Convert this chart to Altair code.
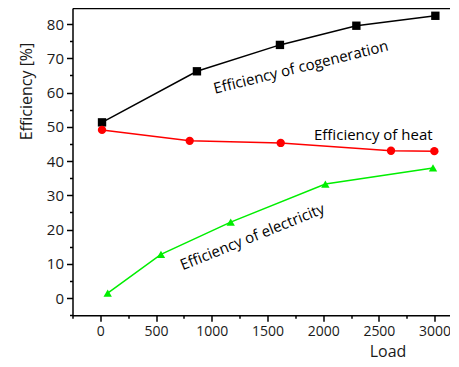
import altair as alt
import pandas as pd

# ---- data ----
series_names = ["Efficiency of cogeneration", "Efficiency of heat", "Efficiency of electricity"]
load_cogen = [15, 867, 1612, 2298, 3007]
eff_cogen = [51.3, 66.2, 73.9, 79.5, 82.4]
load_heat = [15, 802, 1619, 2609, 2998]
eff_heat = [49.1, 45.9, 45.3, 43.0, 42.9]
load_elec = [66, 544, 1170, 2020, 2986]
eff_elec = [1.5, 12.8, 22.2, 33.3, 38.0]

series_colors = ["#000000", "#ff0000", "#00ee00"]
series_shapes = ["square", "circle", "triangle-up"]

# annotation labels (position in data units, rotation angle)
label_text = series_names
label_load = [1800, 2450, 1365]
label_eff = [67.4, 47.6, 17.9]
label_angle = [346, 0, 338]

x_major = [0, 500, 1000, 1500, 2000, 2500, 3000]
x_minor = [-250, 250, 750, 1250, 1750, 2250, 2750]
y_major = [0, 10, 20, 30, 40, 50, 60, 70, 80]
y_minor = [-5, 5, 15, 25, 35, 45, 55, 65, 75]

rows = []
for name, xs, ys in [(series_names[0], load_cogen, eff_cogen),
                     (series_names[1], load_heat, eff_heat),
                     (series_names[2], load_elec, eff_elec)]:
    for a, b in zip(xs, ys):
        rows.append({"series": name, "load": a, "eff": b})
df = pd.DataFrame(rows)
lab = pd.DataFrame({"text": label_text, "load": label_load, "eff": label_eff, "angle": label_angle})

FONT = "Open Sans"
xscale = alt.Scale(domain=[-250, 3134], nice=False, zero=False)
yscale = alt.Scale(domain=[-5, 84.67], nice=False, zero=False)
cscale = alt.Scale(domain=series_names, range=series_colors)
sscale = alt.Scale(domain=series_names, range=series_shapes)

xaxis = alt.Axis(
    values=x_major, format="d", grid=False, orient="bottom", tickSize=6, labelFontSize=14,
    title="Load", titleX=315, titleY=41, titleBaseline="alphabetic", titleAlign="center",
)
yaxis = alt.Axis(
    values=y_major, grid=False, orient="left", tickSize=6,
    title="Efficiency [%]", titleX=-41, titleY=83, titleBaseline="alphabetic",
    titleAlign="center", titleAngle=270,
)
xminor = alt.Axis(values=x_minor, grid=False, orient="bottom", tickSize=3,
                  labels=False, domain=False, title=None)
yminor = alt.Axis(values=y_minor, grid=False, orient="left", tickSize=3,
                  labels=False, domain=False, title=None)
xtop = alt.Axis(orient="top", ticks=False, labels=False, title=None, grid=False, domain=True)

base = alt.Chart(df)
lines = base.mark_line(strokeWidth=1.5).encode(
    x=alt.X("load:Q", scale=xscale, axis=xaxis),
    y=alt.Y("eff:Q", scale=yscale, axis=yaxis),
    color=alt.Color("series:N", scale=cscale, legend=None),
    detail="series:N",
)
points = base.mark_point(filled=True, opacity=1, size=70).encode(
    x=alt.X("load:Q", scale=xscale, axis=None),
    y=alt.Y("eff:Q", scale=yscale, axis=None),
    color=alt.Color("series:N", scale=cscale, legend=None),
    shape=alt.Shape("series:N", scale=sscale, legend=None),
)
minor = base.mark_point(opacity=0).encode(
    x=alt.X("load:Q", scale=xscale, axis=xminor),
    y=alt.Y("eff:Q", scale=yscale, axis=yminor),
)
topframe = base.mark_point(opacity=0).encode(
    x=alt.X("load:Q", scale=xscale, axis=xtop),
    y=alt.Y("eff:Q", scale=yscale, axis=None),
)
texts = alt.Chart(lab).mark_text(font=FONT, fontSize=15, color="#000000", align="center", baseline="middle").encode(
    x=alt.X("load:Q", scale=xscale, axis=None),
    y=alt.Y("eff:Q", scale=yscale, axis=None),
    text="text:N",
    angle=alt.Angle("angle:Q", scale=None),
)

chart = alt.layer(lines, points, minor, topframe, texts).resolve_axis(
    x="independent", y="independent"
).properties(
    width=377, height=307.3,
    padding={"left": 64.5, "top": 0, "right": 0, "bottom": 43.5},
    autosize=alt.AutoSizeParams(type="none"),
).configure_view(stroke=None).configure_axis(
    domainColor="#000000", domainWidth=1.5, tickColor="#000000", tickWidth=1.5,
    labelFont=FONT, labelFontSize=15, labelColor="#1a1a1a", labelPadding=3,
    titleFont=FONT, titleFontSize=16, titleColor="#1a1a1a", titleFontWeight="normal",
)

chart.save("out.html", embed_options={"renderer": "svg", "actions": False})
